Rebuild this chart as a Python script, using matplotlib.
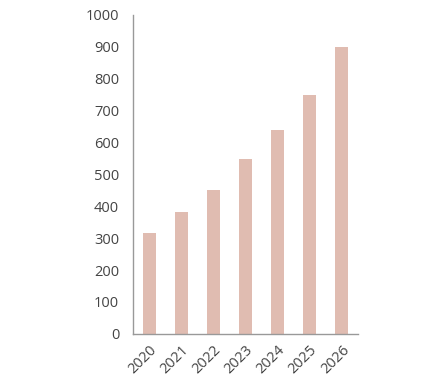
import matplotlib
matplotlib.use("Agg")
import matplotlib.pyplot as plt

years = ['2020', '2021', '2022', '2023', '2024', '2025', '2026']
values = [317, 382, 450, 549, 639, 749, 900]

plt.rcParams['font.family'] = ['Open Sans', 'DejaVu Sans']

fig = plt.figure(figsize=(4.21, 3.82), dpi=100)
ax = fig.add_axes([0.316, 0.126, 0.534, 0.835])

ax.bar(range(len(years)), values, width=0.4, color='#e0bcb1')
ax.set_xlim(-0.5, len(years) - 0.5)
ax.set_ylim(0, 1000)
ax.set_yticks(range(0, 1001, 100))
ax.set_xticks(range(len(years)))
ax.set_xticklabels(years, rotation=45, ha='right', rotation_mode='anchor')

for s in ['top', 'right']:
    ax.spines[s].set_visible(False)
for s in ['left', 'bottom']:
    ax.spines[s].set_color('#999999')
    ax.spines[s].set_linewidth(1)
ax.tick_params(length=0, labelsize=10.5, colors='#444444', pad=10)
ax.tick_params(axis='x', pad=6)

fig.savefig('out.png', dpi=100)
